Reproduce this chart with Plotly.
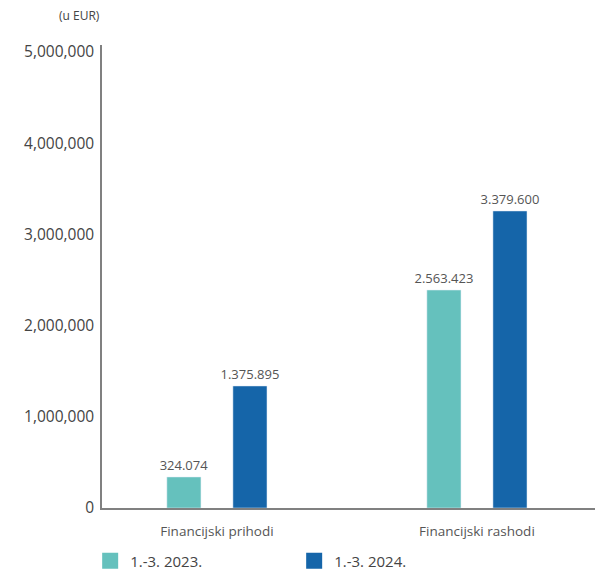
import plotly.graph_objects as go

categories = ["Financijski prihodi", "Financijski rashodi"]
series_names = ["1.-3. 2023.", "1.-3. 2024."]
values_2023 = [340000, 2390000]
values_2024 = [1338000, 3257000]
labels_2023 = ["324.074", "2.563.423"]
labels_2024 = ["1.375.895", "3.379.600"]
colors = ["#65C1BD", "#1565A9"]

fig = go.Figure()
for name, vals, labs, col in [
    (series_names[0], values_2023, labels_2023, colors[0]),
    (series_names[1], values_2024, labels_2024, colors[1]),
]:
    fig.add_trace(go.Bar(
        x=categories, y=vals, name=name, marker_color=col,
        text=labs, textposition="outside", cliponaxis=False, constraintext="none",
        textfont=dict(size=13, color="#555555", family="Open Sans"),
        showlegend=False,
    ))
    fig.add_trace(go.Scatter(
        x=[None], y=[None], mode="markers", name=name,
        marker=dict(symbol="square", size=16, color=col),
    ))

fig.update_layout(
    width=595, height=571,
    margin=dict(l=102, r=0, t=45, b=63, autoexpand=False),
    paper_bgcolor="white", plot_bgcolor="white",
    barmode="group", bargap=0.492, bargroupgap=0.484,
    font=dict(family="Open Sans", color="#444444"),
    legend=dict(
        orientation="h", x=-0.024, xanchor="left", y=-0.079, yanchor="top",
        entrywidth=159, entrywidthmode="pixels",
        font=dict(size=15, color="#444444"), itemsizing="trace",
    ),
    annotations=[dict(
        text="(u EUR)", xref="paper", yref="paper", x=0, y=1,
        xanchor="right", yanchor="middle", yshift=30, showarrow=False,
        font=dict(size=12, color="#444444"),
    )],
)
fig.update_xaxes(
    range=[-0.442, 1.454], showline=True, linecolor="#808080", linewidth=1.5,
    showgrid=False, ticks="", tickfont=dict(size=13.5, color="#555555"),
    ticklabelstandoff=10, automargin=False,
)
fig.update_yaxes(
    range=[0, 5077000], showline=True, linecolor="#808080", linewidth=1.5,
    showgrid=False, zeroline=False, tickvals=[0, 1000000, 2000000, 3000000, 4000000, 5000000],
    tickformat=",d", tickfont=dict(size=15.5, color="#444444"), ticklabelstandoff=3,
    automargin=False,
)
fig.write_html(
    "out.html",
    config={"displayModeBar": False},
    post_script="document.body.style.margin='0';document.body.style.overflow='hidden';",
)
